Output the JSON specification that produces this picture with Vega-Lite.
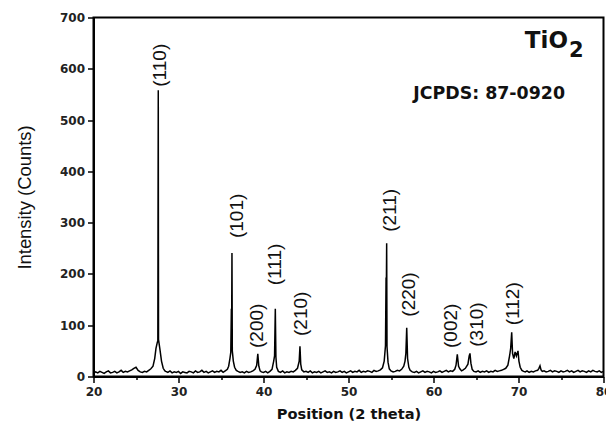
{
  "$schema": "https://vega.github.io/schema/vega-lite/v6.json",
  "width": 510,
  "height": 359,
  "autosize": {"type": "none"},
  "padding": {"left": 93.5, "top": 17.5, "right": 2.5, "bottom": 52.5},
  "background": "white",
  "config": {
    "view": {"stroke": "black", "strokeWidth": 2},
    "axis": {"grid": false, "domainColor": "black", "domainWidth": 2, "tickColor": "black", "tickWidth": 1.5, "labelFont": "DejaVu Sans", "labelFontWeight": "bold", "labelFontSize": 12, "labelColor": "#222", "labelOverlap": false, "labelFlush": false, "labelBound": false}
  },
  "datasets": {
    "xrd": [
      {"t":20,"i":6},{"t":20.25,"i":9},{"t":20.5,"i":7},{"t":20.75,"i":10},{"t":21,"i":8},{"t":21.25,"i":6},{"t":21.5,"i":9},{"t":21.75,"i":11},{"t":22,"i":7},{"t":22.25,"i":8},{"t":22.5,"i":10},{"t":22.75,"i":7},{"t":23,"i":9},{"t":23.25,"i":12},{"t":23.5,"i":8},{"t":23.75,"i":10},{"t":24,"i":9},{"t":24.25,"i":11},{"t":24.5,"i":13},{"t":24.75,"i":16},{"t":25,"i":18},{"t":25.25,"i":12},{"t":25.5,"i":9},{"t":25.75,"i":8},{"t":26,"i":10},{"t":26.25,"i":9},{"t":26.5,"i":12},{"t":26.75,"i":15},
      {"t":27,"i":20},{"t":27.2,"i":35},{"t":27.35,"i":55},{"t":27.5,"i":66},{"t":27.57,"i":70},{"t":27.59,"i":290},{"t":27.62,"i":558},{"t":27.65,"i":72},{"t":27.8,"i":55},{"t":28,"i":30},{"t":28.2,"i":16},{"t":28.4,"i":11},
      {"t":28.5,"i":10},{"t":28.75,"i":8},{"t":29,"i":11},{"t":29.25,"i":7},{"t":29.5,"i":9},{"t":29.75,"i":8},{"t":30,"i":10},{"t":30.25,"i":6},{"t":30.5,"i":9},{"t":30.75,"i":8},{"t":31,"i":7},{"t":31.25,"i":10},{"t":31.5,"i":9},{"t":31.75,"i":7},{"t":32,"i":11},{"t":32.25,"i":8},{"t":32.5,"i":9},{"t":32.75,"i":12},{"t":33,"i":8},{"t":33.25,"i":10},{"t":33.5,"i":7},{"t":33.75,"i":9},{"t":34,"i":11},{"t":34.25,"i":8},{"t":34.5,"i":10},{"t":34.75,"i":9},{"t":35,"i":12},{"t":35.25,"i":8},{"t":35.5,"i":11},{"t":35.75,"i":14},
      {"t":35.9,"i":20},{"t":36.05,"i":35},{"t":36.15,"i":47},{"t":36.22,"i":132},{"t":36.26,"i":128},{"t":36.29,"i":241},{"t":36.33,"i":50},{"t":36.45,"i":30},{"t":36.6,"i":18},{"t":36.8,"i":12},
      {"t":37,"i":10},{"t":37.25,"i":8},{"t":37.5,"i":9},{"t":37.75,"i":7},{"t":38,"i":10},{"t":38.25,"i":8},{"t":38.5,"i":9},{"t":38.75,"i":11},{"t":39,"i":14},{"t":39.2,"i":22},{"t":39.33,"i":44},{"t":39.45,"i":20},{"t":39.6,"i":11},{"t":39.75,"i":9},{"t":40,"i":8},{"t":40.25,"i":10},{"t":40.5,"i":7},{"t":40.75,"i":10},{"t":41,"i":14},{"t":41.2,"i":30},{"t":41.3,"i":40},{"t":41.39,"i":132},{"t":41.46,"i":38},{"t":41.55,"i":18},{"t":41.75,"i":10},{"t":42,"i":8},{"t":42.25,"i":11},{"t":42.5,"i":7},{"t":42.75,"i":9},{"t":43,"i":8},{"t":43.25,"i":10},{"t":43.5,"i":9},{"t":43.75,"i":12},{"t":44,"i":16},{"t":44.2,"i":30},{"t":44.29,"i":59},{"t":44.38,"i":24},{"t":44.5,"i":13},{"t":44.75,"i":9},
      {"t":45,"i":10},{"t":45.25,"i":8},{"t":45.5,"i":11},{"t":45.75,"i":7},{"t":46,"i":9},{"t":46.25,"i":8},{"t":46.5,"i":10},{"t":46.75,"i":7},{"t":47,"i":9},{"t":47.25,"i":11},{"t":47.5,"i":8},{"t":47.75,"i":9},{"t":48,"i":7},{"t":48.25,"i":10},{"t":48.5,"i":8},{"t":48.75,"i":9},{"t":49,"i":11},{"t":49.25,"i":8},{"t":49.5,"i":10},{"t":49.75,"i":7},{"t":50,"i":9},{"t":50.25,"i":11},{"t":50.5,"i":8},{"t":50.75,"i":10},{"t":51,"i":9},{"t":51.25,"i":12},{"t":51.5,"i":8},{"t":51.75,"i":10},{"t":52,"i":9},{"t":52.25,"i":11},{"t":52.5,"i":10},{"t":52.75,"i":8},{"t":53,"i":12},{"t":53.25,"i":10},{"t":53.5,"i":11},{"t":53.75,"i":13},
      {"t":54,"i":17},{"t":54.2,"i":30},{"t":54.35,"i":60},{"t":54.42,"i":193},{"t":54.46,"i":188},{"t":54.49,"i":260},{"t":54.53,"i":58},{"t":54.65,"i":28},{"t":54.8,"i":15},
      {"t":55,"i":11},{"t":55.25,"i":9},{"t":55.5,"i":10},{"t":55.75,"i":12},{"t":56,"i":11},{"t":56.25,"i":14},{"t":56.5,"i":20},{"t":56.65,"i":30},{"t":56.75,"i":45},{"t":56.85,"i":95},{"t":56.95,"i":35},{"t":57.1,"i":18},{"t":57.25,"i":12},{"t":57.5,"i":9},{"t":57.75,"i":8},{"t":58,"i":10},{"t":58.25,"i":7},{"t":58.5,"i":9},{"t":58.75,"i":11},{"t":59,"i":8},{"t":59.25,"i":10},{"t":59.5,"i":9},{"t":59.75,"i":7},{"t":60,"i":10},{"t":60.25,"i":8},{"t":60.5,"i":9},{"t":60.75,"i":11},{"t":61,"i":8},{"t":61.25,"i":10},{"t":61.5,"i":12},{"t":61.75,"i":9},{"t":62,"i":11},{"t":62.25,"i":10},{"t":62.5,"i":14},{"t":62.65,"i":22},{"t":62.8,"i":43},{"t":62.95,"i":20},{"t":63.1,"i":15},{"t":63.3,"i":11},{"t":63.5,"i":13},{"t":63.75,"i":16},{"t":64.05,"i":24},{"t":64.2,"i":40},{"t":64.29,"i":45},{"t":64.4,"i":26},{"t":64.55,"i":14},{"t":64.75,"i":10},
      {"t":65,"i":9},{"t":65.25,"i":11},{"t":65.5,"i":8},{"t":65.75,"i":10},{"t":66,"i":9},{"t":66.25,"i":11},{"t":66.5,"i":8},{"t":66.75,"i":10},{"t":67,"i":9},{"t":67.25,"i":12},{"t":67.5,"i":10},{"t":67.75,"i":11},{"t":68,"i":12},{"t":68.25,"i":14},{"t":68.5,"i":16},{"t":68.75,"i":22},{"t":68.95,"i":40},{"t":69.08,"i":55},{"t":69.2,"i":86},{"t":69.3,"i":45},{"t":69.45,"i":35},{"t":69.6,"i":48},{"t":69.75,"i":40},{"t":69.94,"i":50},{"t":70.05,"i":30},{"t":70.2,"i":18},{"t":70.4,"i":12},{"t":70.6,"i":10},{"t":70.8,"i":9},
      {"t":71,"i":11},{"t":71.25,"i":8},{"t":71.5,"i":10},{"t":71.75,"i":9},{"t":72,"i":11},{"t":72.25,"i":12},{"t":72.4,"i":16},{"t":72.53,"i":21},{"t":72.65,"i":13},{"t":72.8,"i":10},{"t":73,"i":11},{"t":73.25,"i":9},{"t":73.5,"i":10},{"t":73.75,"i":12},{"t":74,"i":9},{"t":74.25,"i":11},{"t":74.5,"i":10},{"t":74.75,"i":8},{"t":75,"i":11},{"t":75.25,"i":9},{"t":75.5,"i":10},{"t":75.75,"i":12},{"t":76,"i":9},{"t":76.25,"i":11},{"t":76.5,"i":8},{"t":76.75,"i":10},{"t":77,"i":12},{"t":77.25,"i":9},{"t":77.5,"i":11},{"t":77.75,"i":10},{"t":78,"i":8},{"t":78.25,"i":11},{"t":78.5,"i":9},{"t":78.75,"i":12},{"t":79,"i":10},{"t":79.25,"i":9},{"t":79.5,"i":11},{"t":79.75,"i":8},{"t":80,"i":10}
    ],
    "ann": [
      {"x":27.82,"y":565,"label":"(110)","kind":"hkl"},
      {"x":36.85,"y":270,"label":"(101)","kind":"hkl"},
      {"x":39.2,"y":55.6,"label":"(200)","kind":"hkl"},
      {"x":41.35,"y":178,"label":"(111)","kind":"hkl"},
      {"x":44.38,"y":79,"label":"(210)","kind":"hkl"},
      {"x":54.88,"y":282,"label":"(211)","kind":"hkl"},
      {"x":57.15,"y":116.6,"label":"(220)","kind":"hkl"},
      {"x":62.06,"y":55.6,"label":"(002)","kind":"hkl"},
      {"x":65.08,"y":58,"label":"(310)","kind":"hkl"},
      {"x":69.39,"y":100,"label":"(112)","kind":"hkl"},
      {"x":75.82,"y":640.5,"label":"TiO","kind":"formula"},
      {"x":75.94,"y":622.4,"label":"2","kind":"sub"},
      {"x":75.47,"y":541,"label":"JCPDS: 87-0920","kind":"ref"}
    ]
  },
  "layer": [
    {
      "data": {"name": "xrd"},
      "mark": {"type": "line", "color": "black", "strokeWidth": 1.5, "clip": true},
      "encoding": {
        "x": {"field": "t", "type": "quantitative", "scale": {"domain": [20, 80], "nice": false, "zero": false},
          "axis": {"title": "Position (2 theta)", "values": [20,25,30,35,40,45,50,55,60,65,70,75,80],
            "labelExpr": "datum.value % 10 === 0 ? datum.label : ''",
            "tickSize": {"condition": {"test": "datum.value % 10 === 0", "value": 6}, "value": 3},
            "labelPadding": 4, "titleFont": "DejaVu Sans", "titleFontWeight": "bold", "titleFontSize": 14.6, "titleColor": "#111", "titlePadding": 9}},
        "y": {"field": "i", "type": "quantitative", "scale": {"domain": [0, 700], "nice": false},
          "axis": {"title": "Intensity (Counts)", "values": [0,50,100,150,200,250,300,350,400,450,500,550,600,650,700],
            "labelExpr": "datum.value % 100 === 0 ? datum.label : ''",
            "tickSize": {"condition": {"test": "datum.value % 100 === 0", "value": 6}, "value": 3},
            "labelPadding": 3, "titleFont": "Liberation Sans", "titleFontWeight": "normal", "titleFontSize": 18.4, "titleColor": "#111", "titlePadding": 25}}
      }
    },
    {
      "data": {"name": "ann"},
      "transform": [{"filter": "datum.kind === 'hkl'"}],
      "mark": {"type": "text", "angle": 270, "align": "left", "baseline": "middle", "font": "Liberation Sans", "fontSize": 19, "color": "#111"},
      "encoding": {"x": {"field": "x", "type": "quantitative"}, "y": {"field": "y", "type": "quantitative"}, "text": {"field": "label"}}
    },
    {
      "data": {"name": "ann"},
      "transform": [{"filter": "datum.kind === 'formula'"}],
      "mark": {"type": "text", "align": "right", "baseline": "alphabetic", "font": "DejaVu Sans", "fontWeight": "bold", "fontSize": 23, "color": "#111"},
      "encoding": {"x": {"field": "x", "type": "quantitative"}, "y": {"field": "y", "type": "quantitative"}, "text": {"field": "label"}}
    },
    {
      "data": {"name": "ann"},
      "transform": [{"filter": "datum.kind === 'sub'"}],
      "mark": {"type": "text", "align": "left", "baseline": "alphabetic", "font": "DejaVu Sans", "fontWeight": "bold", "fontSize": 21, "color": "#111"},
      "encoding": {"x": {"field": "x", "type": "quantitative"}, "y": {"field": "y", "type": "quantitative"}, "text": {"field": "label"}}
    },
    {
      "data": {"name": "ann"},
      "transform": [{"filter": "datum.kind === 'ref'"}],
      "mark": {"type": "text", "align": "right", "baseline": "alphabetic", "font": "DejaVu Sans", "fontWeight": "bold", "fontSize": 17.4, "color": "#111"},
      "encoding": {"x": {"field": "x", "type": "quantitative"}, "y": {"field": "y", "type": "quantitative"}, "text": {"field": "label"}}
    }
  ]
}
